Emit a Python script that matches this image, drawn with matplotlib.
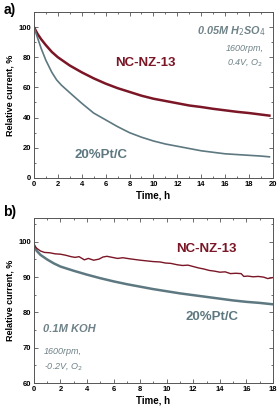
import matplotlib
matplotlib.use("Agg")
import matplotlib.pyplot as plt
from matplotlib.ticker import MultipleLocator

# ─── panel a: 0.05M H2SO4 ───────────────────────────────────────────
t_a = [0, 0.3, 0.6, 1, 1.5, 2, 3, 4, 5, 6, 7, 8, 9, 10, 11, 12, 13, 14, 15, 16, 17, 18, 19, 19.7]
nc_a = [100, 95.5, 92, 88, 83.5, 80, 74.5, 70, 66, 62.5, 59.5, 57, 54.5, 52.5, 51, 49.5, 48, 47, 45.8, 44.8, 43.8, 43, 42, 41.3]
t_pt_a = [0, 0.3, 0.6, 1, 1.5, 1.9, 2.3, 3, 4, 5, 6, 7, 8, 9, 10, 11, 12, 13, 14, 15, 16, 17, 18, 19, 19.7]
pt_a = [100, 93, 86, 78, 70, 65, 61.5, 56.5, 49.5, 43, 38.5, 34, 30, 27, 24.5, 22.5, 21, 19.5, 18, 17, 16, 15.5, 15, 14.5, 14]

# ─── panel b: 0.1M KOH ──────────────────────────────────────────────
t_nc_b = [0, 0.2, 0.5, 0.8, 1.2, 1.6, 2, 2.4, 2.8, 3.1, 3.4, 3.8, 4.1, 4.5, 4.9, 5.2, 5.5, 5.9, 6.3, 6.7,
          7.2, 7.6, 8.0, 8.5, 9.0, 9.5, 9.9, 10.3, 10.8, 11.2, 11.6, 12.0, 12.4, 12.8, 13.2, 13.6, 14.0,
          14.4, 14.8, 15.2, 15.6, 15.8, 16.1, 16.5, 16.9, 17.3, 17.6, 17.9, 18.0]
nc_b = [99.2, 98.2, 97.4, 97.0, 96.9, 96.6, 96.5, 96.2, 95.8, 95.6, 95.8, 94.9, 95.3, 94.8, 95.1, 95.7, 95.9, 95.6, 95.3, 95.5,
        95.2, 95.0, 94.8, 94.6, 94.4, 94.3, 94.0, 93.9, 93.5, 93.3, 93.4, 93.0, 92.6, 92.3, 91.9, 91.7, 91.4,
        91.5, 91.0, 91.1, 91.0, 90.2, 90.3, 90.1, 90.2, 90.0, 89.6, 89.8, 89.9]
t_pt_b = [0, 0.2, 0.5, 1, 1.5, 2, 3, 4, 5, 6, 7, 8, 9, 10, 11, 12, 13, 14, 15, 16, 17, 18]
pt_b = [99.2, 97.5, 96.3, 95.0, 93.9, 93.0, 91.8, 90.7, 89.7, 88.8, 88.0, 87.3, 86.6, 86.0, 85.4, 84.9, 84.4, 83.9, 83.4, 83.0, 82.7, 82.3]

RED = "#7b1626"
GREY = "#5d7880"
TXT = "#6f8288"
AX = "#555555"

fig = plt.figure(figsize=(2.80, 4.11), dpi=100)
plt.rcParams["font.family"] = ["Liberation Sans", "DejaVu Sans"]


def style(ax, xmax, ymin, ymax, ymaj, ymin_step):
    ax.set_xlim(0, xmax)
    ax.set_ylim(ymin, ymax)
    ax.xaxis.set_major_locator(MultipleLocator(2))
    ax.xaxis.set_minor_locator(MultipleLocator(1))
    ax.yaxis.set_major_locator(MultipleLocator(ymaj))
    ax.yaxis.set_minor_locator(MultipleLocator(ymin_step))
    ax.tick_params(which="both", direction="in", top=True, right=True, color=AX,
                   labelsize=5.5, pad=2, width=0.6)
    ax.tick_params(which="major", length=3)
    ax.tick_params(which="minor", length=1.5)
    for lbl in ax.get_xticklabels() + ax.get_yticklabels():
        lbl.set_fontweight("bold")
    for s in ax.spines.values():
        s.set_color(AX)
        s.set_linewidth(0.7)
    ax.set_xlabel("Time, h", fontsize=7, fontweight="bold", labelpad=2)
    ax.set_ylabel("Relative current, %", fontsize=6.5, fontweight="bold", labelpad=3)


ax1 = fig.add_axes([0.121, 0.567, 0.854, 0.404])
ax1.plot(t_a, nc_a, color=RED, lw=1.8)
ax1.plot(t_pt_a, pt_a, color=GREY, lw=1.2)
style(ax1, 20, 0, 110, 20, 10)
ax1.text(9.3, 76, "NC-NZ-13", color=RED, fontsize=9.5, fontweight="bold", ha="center", va="center")
ax1.text(5.6, 15, "20%Pt/C", color=GREY, fontsize=9.5, fontweight="bold", ha="center", va="center")
ax1.text(19.4, 97.5, r"0.05M H$_2$SO$_4$", color=TXT, fontsize=7.8, fontweight="bold",
         fontstyle="italic", ha="right", va="center")
ax1.text(19.2, 86, "1600rpm,", color=TXT, fontsize=6.5, fontstyle="italic", ha="right", va="center")
ax1.text(19.2, 76.5, r"0.4V, O$_2$", color=TXT, fontsize=6.5, fontstyle="italic", ha="right", va="center")
fig.text(0.012, 0.975, "a)", fontsize=10, fontweight="bold", va="center")

ax2 = fig.add_axes([0.121, 0.068, 0.854, 0.402])
ax2.plot(t_pt_b, pt_b, color=GREY, lw=1.8)
ax2.plot(t_nc_b, nc_b, color=RED, lw=1.0)
style(ax2, 18, 60, 106.8, 10, 5)
ax2.text(13.0, 98, "NC-NZ-13", color=RED, fontsize=9.5, fontweight="bold", ha="center", va="center")
ax2.text(13.4, 78.8, "20%Pt/C", color=GREY, fontsize=9.5, fontweight="bold", ha="center", va="center")
ax2.text(0.65, 75.3, "0.1M KOH", color=TXT, fontsize=8, fontweight="bold", fontstyle="italic",
         ha="left", va="center")
ax2.text(0.75, 68.9, "1600rpm,", color=TXT, fontsize=6.5, fontstyle="italic", ha="left", va="center")
ax2.text(0.75, 64.6, r"-0.2V, O$_2$", color=TXT, fontsize=6.5, fontstyle="italic", ha="left", va="center")
fig.text(0.012, 0.485, "b)", fontsize=10, fontweight="bold", va="center")

fig.savefig("out.png", dpi=100, facecolor="white")
